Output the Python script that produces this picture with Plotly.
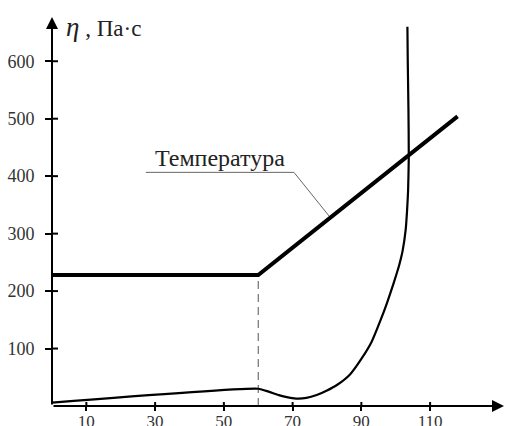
import plotly.graph_objects as go

# ---- data ----
temp_t = [0, 60, 118]
temp_v = [228, 228, 504]

visc_t = [0, 60, 63, 66, 68, 71, 74, 77, 80, 83, 86.7, 90, 93, 95.5, 97.5, 99.4, 101, 102, 102.9, 103.3, 103.6, 103.8, 103.7, 103.5, 103.4]
visc_v = [6, 30, 25, 19, 16, 13, 14, 19, 27, 37, 55, 82, 112, 148, 180, 214, 245, 270, 307, 340, 375, 434, 516, 600, 660]

x_ticks = [10, 30, 50, 70, 90, 110]
y_ticks = [100, 200, 300, 400, 500, 600]

leader_t = [27.3, 70.4, 80.7]
leader_v = [406.6, 406.6, 330]

split_t = 60
label_text = "Температура"
y_title = "<i><span style='font-size:27px'>η</span></i> , Па·с"
x_title = "<i><span style='font-size:27px'>t</span></i> , мин"

FONT = "Liberation Serif, serif"
X_MAX = 131.5
Y_MAX = 677

fig = go.Figure()

fig.add_trace(go.Scatter(x=[split_t, split_t], y=[0, temp_v[1]], mode="lines",
                         line=dict(color="#555", width=1, dash="8px,5px"), hoverinfo="skip"))
fig.add_trace(go.Scatter(x=leader_t, y=leader_v, mode="lines",
                         line=dict(color="#666", width=1), hoverinfo="skip"))
fig.add_trace(go.Scatter(x=temp_t, y=temp_v, mode="lines",
                         line=dict(color="black", width=4), hoverinfo="skip"))
fig.add_trace(go.Scatter(x=visc_t, y=visc_v, mode="lines",
                         line=dict(color="black", width=2.2, shape="spline", smoothing=0.5),
                         hoverinfo="skip"))

# inner halves of the crossing tick marks
shapes = []
for xt in x_ticks:
    shapes.append(dict(type="line", xref="x", yref="y", x0=xt, x1=xt, y0=0, y1=7,
                       line=dict(color="black", width=2)))
for yt in y_ticks:
    shapes.append(dict(type="line", xref="x", yref="y", y0=yt, y1=yt, x0=0, x1=1.75,
                       line=dict(color="black", width=2)))

annotations = [
    dict(x=X_MAX, y=0, ax=0, ay=0, xref="x", yref="y", axref="x", ayref="y",
         showarrow=True, arrowhead=2, arrowsize=1.2, arrowwidth=2, arrowcolor="black", text=""),
    dict(x=0, y=Y_MAX, ax=0, ay=0, xref="x", yref="y", axref="x", ayref="y",
         showarrow=True, arrowhead=2, arrowsize=1.2, arrowwidth=2, arrowcolor="black", text=""),
    dict(x=48.9, y=432, xref="x", yref="y", text=label_text, showarrow=False,
         font=dict(family=FONT, size=24, color="#222")),
    dict(x=3.6, y=659, xref="x", yref="y", xanchor="left", text=y_title, showarrow=False,
         font=dict(family=FONT, size=23, color="#222")),
    dict(x=134.5, y=27, xref="x", yref="y", xanchor="right", text=x_title, showarrow=False,
         font=dict(family=FONT, size=22, color="#222")),
]

fig.update_layout(
    width=512, height=426,
    margin=dict(l=52, r=8, t=17, b=20, autoexpand=False),
    paper_bgcolor="white", plot_bgcolor="white",
    showlegend=False,
    font=dict(family=FONT, color="#333"),
    shapes=shapes,
    annotations=annotations,
    xaxis=dict(range=[0, X_MAX], tickvals=x_ticks, ticktext=[str(v) for v in x_ticks],
               showgrid=False, zeroline=False, showline=False, automargin=False,
               ticks="outside", ticklen=4, tickwidth=2, tickcolor="black",
               tickfont=dict(family=FONT, size=17, color="#333"), ticklabelstandoff=-4),
    yaxis=dict(range=[0, Y_MAX], tickvals=y_ticks, ticktext=[str(v) for v in y_ticks],
               showgrid=False, zeroline=False, showline=False, automargin=False,
               ticks="outside", ticklen=6, tickwidth=2, tickcolor="black",
               tickfont=dict(family=FONT, size=18, color="#333"), ticklabelstandoff=7),
)

fig.write_html("out.html")
